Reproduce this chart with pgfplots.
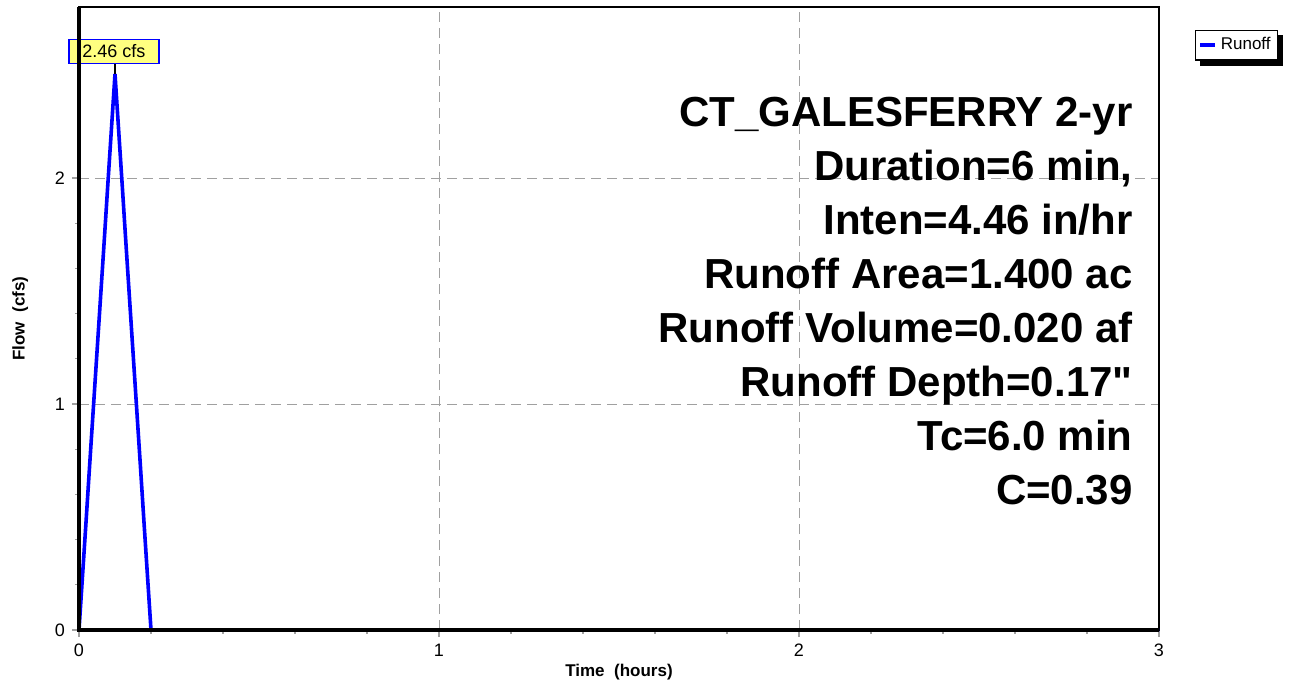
\documentclass[border=0pt]{standalone}
\usepackage{fontspec}
\setmainfont{Liberation Sans}
\newfontfamily\rawfont[Ligatures=TeXOff]{Liberation Sans}
\usepackage{pgfplots}
\pgfplotsset{compat=1.18}
\usetikzlibrary{backgrounds}
\definecolor{gridgray}{RGB}{160,160,160}
\definecolor{lblyellow}{RGB}{255,255,128}
\begin{document}
\begin{tikzpicture}
\begin{axis}[
  name=ax,
  scale only axis,
  width=540pt, height=311.5pt,
  xmin=0, xmax=3, ymin=0, ymax=2.757,
  xtick={0,1,2,3}, ytick={0,1,2},
  minor x tick num=4, minor y tick num=4,
  tick align=outside,
  xtick pos=bottom, ytick pos=left,
  major tick length=3.5pt, minor tick length=2pt,
  tick style={gridgray, line width=0.6pt},
  grid=major,
  major grid style={gridgray, dash pattern=on 5pt off 3pt, line width=0.5pt},
  axis line style={black, line width=1pt},
  /pgf/number format/assume math mode=true,
  ticklabel style={font=\fontsize{9}{10}\selectfont},
  xlabel={\textbf{Time\ \ (hours)}},
  ylabel={\textbf{Flow\ \ (cfs)}},
  label style={font=\fontsize{8.5}{10}\selectfont},
  xlabel style={yshift=3pt},
  ylabel style={yshift=6.5pt},
  legend style={name=leg, at={(1.033,0.963)}, anchor=north west, draw=black, fill=white, line width=0.6pt,
    font=\fontsize{8.5}{10}\selectfont, inner sep=1.5pt},
  legend image code/.code={\draw[blue, line width=1.8pt] (0pt,0pt) -- (7.5pt,0pt);},
  clip=false,
]
\addplot[blue, line width=1.8pt] coordinates {
(0,0) (0.02,0.49) (0.03,0.74) (0.07,1.72) (0.08,1.97) (0.1,2.46)
(0.12,1.97) (0.13,1.72) (0.17,0.74) (0.18,0.49) (0.2,0) (3,0)};
\addlegendentry{Runoff}
\draw[black, line width=0.8pt] (axis cs:0.1,2.46) -- ++(0,5pt);
\node[draw=blue, fill=lblyellow, line width=0.8pt, minimum width=45pt, minimum height=12pt, inner sep=1pt, anchor=south, font=\fontsize{9}{10}\selectfont]
  at ([yshift=5pt]axis cs:0.097,2.46) {2.46 cfs};
\node[anchor=base east, align=right, inner sep=0pt, font=\fontsize{21}{27}\selectfont\bfseries]
  at (rel axis cs:0.976,0.202) {CT\_GALESFERRY 2-yr\\Duration=6 min,\\Inten=4.46 in/hr\\Runoff Area=1.400 ac\\Runoff Volume=0.020 af\\Runoff Depth=0.17{\rawfont\bfseries "}\\Tc=6.0 min\\C=0.39};
\draw[black, line width=2pt] (rel axis cs:0,1) -- (rel axis cs:0,0) -- (rel axis cs:1,0);
\end{axis}
\begin{scope}[on background layer]
\fill[black] ([shift={(2.5pt,-2.5pt)}]leg.south west) rectangle ([shift={(2.5pt,-2.5pt)}]leg.north east);
\end{scope}
\pgfresetboundingbox
\path[use as bounding box] ([xshift=-39.5pt,yshift=-28pt]ax.south west) rectangle ([xshift=68.5pt,yshift=3.5pt]ax.north east);
\end{tikzpicture}
\end{document}
